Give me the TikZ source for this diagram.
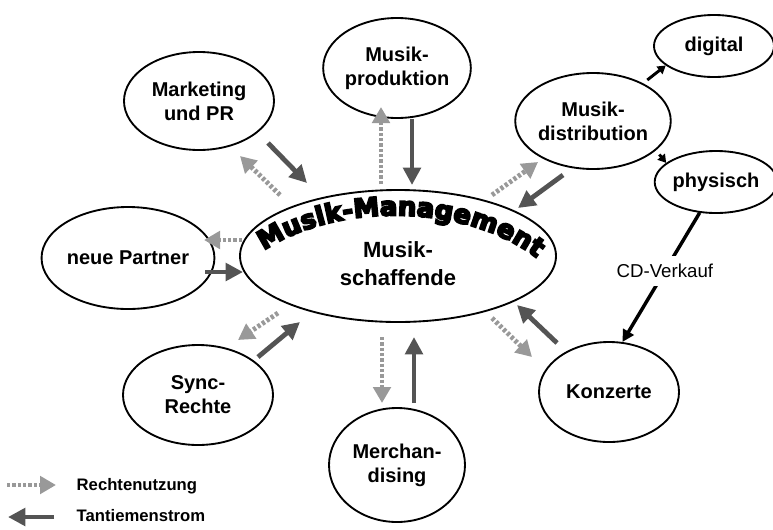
\documentclass[tikz,border=0pt]{standalone}
\usepackage{fontspec}
\setmainfont{Liberation Sans}
\newfontfamily\titlefont{DejaVu Sans}[FakeBold=7]
\usetikzlibrary{shapes.geometric,arrows.meta,decorations.text}
\definecolor{lg}{gray}{0.6}
\definecolor{dg}{gray}{0.33}
\begin{document}
\begin{tikzpicture}[x=0.75pt,y=-0.75pt,
  el/.style 2 args={ellipse, draw, line width=1.4pt, inner sep=0pt,
    minimum width={1.5*#1 pt}, minimum height={1.5*#2 pt},
    align=center, font=\bfseries\fontsize{15}{18}\selectfont},
  flowuse/.style={draw=lg, line width=3.6pt, dash pattern=on 2.4pt off 1.6pt,
    -{Triangle[length=12pt,width=13pt]}},
  flowroy/.style={draw=dg, line width=3.6pt, -{Triangle[length=13pt,width=13pt]}},
  smallarr/.style={draw=black, line width=2.2pt, -{Triangle[length=6pt,width=7pt]}},
  cdarr/.style={draw=black, line width=2.6pt, -{Triangle[length=9pt,width=9pt]}},
  legtext/.style={anchor=west, font=\bfseries\fontsize{12.5}{14}\selectfont}
]
\useasboundingbox (0,0) rectangle (773,529);

% nodes
\node[el={158}{66}] (mm) at (398,256) {};
\node[align=center, font=\bfseries\fontsize{16.5}{21}\selectfont] (mmtxt) at (398,264) {Musik-\\schaffende};
\path[decorate, decoration={text along path, text align=center,
    text={|\titlefont\bfseries\fontsize{19.5}{19.5}\selectfont|Musik-Management}}]
    (254,258) .. controls (326,200) and (474,200) .. (546,266);

\node[el={56}{50}] (prod) at (397,68) {Musik-\\produktion};
\node[el={75}{49}] (mkt) at (199,101) {Marketing\\und PR};
\node[el={75}{48}] (dist) at (593,121) {Musik-\\distribution};
\node[el={60}{31}] (dig) at (714,46) {digital};
\node[el={58}{31}] (phys) at (716,182) {physisch};
\node[el={76}{51}] (part) at (128,258) {neue Partner};
\node[el={75}{50}] (sync) at (198,395) {Sync-\\Rechte};
\node[el={68}{57}] (merch) at (397,465) {Merchan-\\dising};
\node[el={70}{50}] (konz) at (609,392) {Konzerte};

% arrow end coordinates
\coordinate (prodU1) at (381,184); \coordinate (prodU2) at (381,107);
\coordinate (prodR1) at (412,119); \coordinate (prodR2) at (412,185);
\coordinate (mktR1) at (268,143);  \coordinate (mktR2) at (307,183);
\coordinate (mktU1) at (280,195);  \coordinate (mktU2) at (240,156);
\coordinate (distU1) at (492,195); \coordinate (distU2) at (538,162);
\coordinate (distR1) at (563,175); \coordinate (distR2) at (518,208);
\coordinate (partU1) at (242,240); \coordinate (partU2) at (204,240);
\coordinate (partR1) at (205,272); \coordinate (partR2) at (243,272);
\coordinate (syncU1) at (278,313); \coordinate (syncU2) at (238,340);
\coordinate (syncR1) at (258,357); \coordinate (syncR2) at (300,322);
\coordinate (merchU1) at (382,337); \coordinate (merchU2) at (382,403);
\coordinate (merchR1) at (414,403); \coordinate (merchR2) at (414,337);
\coordinate (konzU1) at (492,318); \coordinate (konzU2) at (532,357);
\coordinate (konzR1) at (557,343); \coordinate (konzR2) at (517,305);
\coordinate (legU1) at (7,485);   \coordinate (legU2) at (56,485);
\coordinate (legR1) at (54,517);  \coordinate (legR2) at (8,517);

% flows
\draw[flowuse] (prodU1) -- (prodU2);
\draw[flowroy] (prodR1) -- (prodR2);
\draw[flowroy] (mktR1) -- (mktR2);
\draw[flowuse] (mktU1) -- (mktU2);
\draw[flowuse] (distU1) -- (distU2);
\draw[flowroy] (distR1) -- (distR2);
\draw[flowuse] (partU1) -- (partU2);
\draw[flowroy] (partR1) -- (partR2);
\draw[flowuse] (syncU1) -- (syncU2);
\draw[flowroy] (syncR1) -- (syncR2);
\draw[flowuse] (merchU1) -- (merchU2);
\draw[flowroy] (merchR1) -- (merchR2);
\draw[flowuse] (konzU1) -- (konzU2);
\draw[flowroy] (konzR1) -- (konzR2);

% distribution branches
\draw[smallarr, shorten <=4pt] (dist.37) -- (dig.202);
\draw[smallarr, shorten <=4pt] (dist.335) -- (phys.159);
\draw[cdarr] (phys.242) -- node[fill=white, inner xsep=1pt, inner ysep=6pt, pos=0.45,
  font=\fontsize{14}{14}\selectfont] (cd) {CD-Verkauf} (konz.75);

% legend
\draw[flowuse] (legU1) -- (legU2);
\draw[flowroy] (legR1) -- (legR2);
\node[legtext] (leg1) at (72,486) {Rechtenutzung};
\node[legtext] (leg2) at (72,516) {Tantiemenstrom};
\end{tikzpicture}
\end{document}
